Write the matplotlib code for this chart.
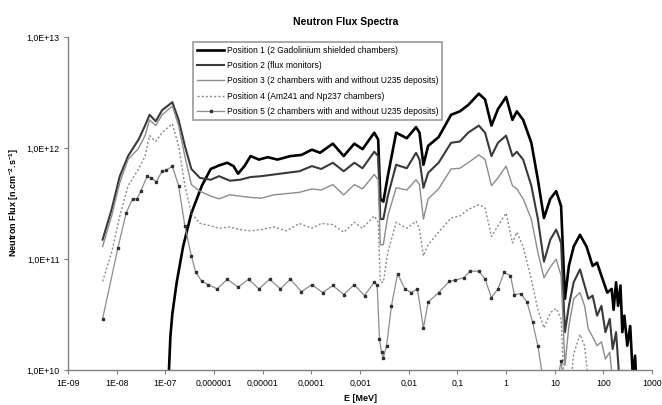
import matplotlib
matplotlib.use("Agg")
import matplotlib.pyplot as plt

plt.rcParams['font.family'] = ['Liberation Sans', 'DejaVu Sans']
plt.rcParams['mathtext.fontset'] = 'custom'
plt.rcParams['mathtext.rm'] = 'Liberation Sans'
plt.rcParams['mathtext.bf'] = 'Liberation Sans:bold'

# shared energy grid (MeV) for positions 2, 3, 4
e_grid = [5.1e-9, 7.8e-9, 1.15e-8, 1.7e-8, 2.8e-8, 3.8e-8, 4.7e-8, 6.3e-8, 8.5e-8, 1.38e-7,
          1.86e-7, 2.5e-7, 3.4e-7, 5.1e-7, 8.5e-7, 1.26e-6, 2.1e-6, 3.4e-6, 5.6e-6, 9.3e-6,
          1.7e-5, 3.1e-5, 5.6e-5, 1.02e-4, 1.58e-4, 2.75e-4, 4.6e-4, 7.6e-4, 1.12e-3, 1.95e-3,
          2.35e-3, 2.6e-3, 3.0e-3, 3.7e-3, 5.5e-3, 9.1e-3, 1.41e-2, 1.66e-2, 2.0e-2, 2.5e-2,
          4.1e-2, 7.4e-2, 0.112, 0.166, 0.275, 0.37, 0.5, 0.68, 1.0, 1.35,
          1.66, 2.24, 3.3, 4.5, 6.0, 8.1, 10.7, 13.5, 16.2, 19.5,
          24.5, 33, 41, 49, 60, 74, 91, 110, 135, 155,
          182, 214]

flux_pos2 = [1.5e11, 2.8e11, 5.6e11, 8.5e11, 1.2e12, 1.6e12, 2.0e12, 1.75e12, 2.2e12, 2.6e12,
             1.8e12, 1.05e12, 6.5e11, 5.4e11, 5.2e11, 5.6e11, 5.1e11, 5.2e11, 5.5e11, 5.6e11,
             5.8e11, 6.0e11, 6.2e11, 6.9e11, 6.5e11, 7.4e11, 6.2e11, 7.4e11, 6.6e11, 9.3e11,
             8.5e11, 2.3e11, 2.3e11, 3.7e11, 7.1e11, 6.6e11, 9.1e11, 7.9e11, 4.4e11, 6.0e11,
             7.4e11, 1.12e12, 1.15e12, 1.38e12, 1.6e12, 1.38e12, 8.5e11, 1.12e12, 1.3e12, 8.5e11,
             9.3e11, 7.9e11, 4.6e11, 2.3e11, 9.5e10, 1.5e11, 1.85e11, 1.4e11, 2.2e10, 3.8e10,
             6.2e10, 8.1e10, 5.8e10, 4.4e10, 4.7e10, 3.1e10, 3.8e10, 2.2e10, 2.9e10, 1.55e10,
             2.2e10, 8e9]

flux_pos3 = [1.3e11, 2.45e11, 4.9e11, 7.9e11, 1.0e12, 1.3e12, 1.8e12, 1.6e12, 2.0e12, 2.4e12,
             1.6e12, 8.5e11, 4.7e11, 4.1e11, 3.7e11, 3.5e11, 3.8e11, 3.7e11, 3.6e11, 3.55e11,
             3.8e11, 3.9e11, 4.0e11, 4.3e11, 4.2e11, 4.7e11, 3.8e11, 4.7e11, 4.3e11, 5.8e11,
             5.2e11, 1.35e11, 1.35e11, 2.45e11, 4.4e11, 4.2e11, 5.2e11, 4.7e11, 2.3e11, 3.5e11,
             4.3e11, 6.5e11, 6.6e11, 7.4e11, 8.7e11, 7.9e11, 4.6e11, 5.4e11, 6.9e11, 4.6e11,
             4.3e11, 3.5e11, 2.3e11, 1.15e11, 6.8e10, 8.5e10, 1.0e11, 7.1e10, 1.1e10, 2.5e10,
             4.4e10, 5.0e10, 3.8e10, 2.35e10, 2.0e10, 1.66e10, 1.8e10, 1.26e10, 1.45e10, 8e9,
             6e9, 5e9]

flux_pos4 = [6.3e10, 1.15e11, 2.45e11, 4.6e11, 6.5e11, 8.5e11, 1.3e12, 1.15e12, 1.38e12, 1.66e12,
             1.05e12, 4.6e11, 2.6e11, 2.1e11, 2.0e11, 1.9e11, 1.95e11, 1.85e11, 1.8e11, 1.85e11,
             1.95e11, 1.8e11, 2.1e11, 1.9e11, 2.1e11, 2.05e11, 1.75e11, 2.15e11, 1.9e11, 2.45e11,
             2.15e11, 6.2e10, 6.2e10, 1.15e11, 2.15e11, 1.9e11, 2.2e11, 1.85e11, 1.07e11, 1.35e11,
             1.75e11, 2.35e11, 2.45e11, 2.8e11, 3.1e11, 2.9e11, 1.6e11, 2.0e11, 2.6e11, 1.4e11,
             1.75e11, 1.3e11, 6.6e10, 3.5e10, 2.4e10, 3.3e10, 3.6e10, 2.9e10, 5e9, 5e9,
             1.4e10, 2.1e10, 1.66e10, 8e9, 5e9]

# position 1 (own grid)
e_pos1 = [1.12e-7, 1.26e-7, 1.38e-7, 1.7e-7, 2.3e-7, 3.4e-7, 5.6e-7, 8.5e-7, 1.26e-6, 1.86e-6,
          2.5e-6, 3.1e-6, 4.2e-6, 5.6e-6, 8.3e-6, 1.26e-5, 2.0e-5, 3.7e-5, 6.2e-5, 1.02e-4,
          1.5e-4, 2.75e-4, 4.6e-4, 7.6e-4, 1.12e-3, 1.95e-3, 2.35e-3, 2.6e-3, 3.0e-3, 3.7e-3,
          5.5e-3, 9.1e-3, 1.41e-2, 1.66e-2, 2.0e-2, 2.5e-2, 4.1e-2, 7.4e-2, 0.112, 0.166,
          0.275, 0.37, 0.5, 0.68, 1.0, 1.35, 1.66, 2.24, 3.3, 4.5,
          6.0, 8.1, 10.7, 13.5, 16.2, 19.5, 24.5, 33, 45, 60,
          74, 91, 120, 148, 162, 182, 200, 224, 245, 270,
          309, 355, 407, 447, 490]
flux_pos1 = [6e9, 2e10, 3.2e10, 6.2e10, 1.3e11, 2.6e11, 4.6e11, 6.5e11, 7.0e11, 7.4e11,
             6.9e11, 5.9e11, 6.9e11, 8.5e11, 7.9e11, 8.3e11, 7.9e11, 8.5e11, 8.7e11, 9.7e11,
             9.1e11, 1.1e12, 8.5e11, 1.1e12, 9.8e11, 1.38e12, 1.2e12, 3.5e11, 3.3e11, 5.6e11,
             1.38e12, 1.23e12, 1.55e12, 1.38e12, 7.1e11, 1.05e12, 1.26e12, 2.0e12, 2.15e12, 2.45e12,
             3.1e12, 2.75e12, 1.6e12, 2.25e12, 2.9e12, 1.8e12, 2.15e12, 1.8e12, 1.12e12, 5.2e11,
             2.35e11, 3.5e11, 4.1e11, 3.0e11, 4.4e10, 8.7e10, 1.3e11, 1.66e11, 1.3e11, 8.7e10,
             9.3e10, 7.1e10, 5.0e10, 5.4e10, 3.5e10, 6.2e10, 3.8e10, 5.8e10, 2.2e10, 3.1e10,
             1.66e10, 2.5e10, 8e9, 1.35e10, 6e9]

# position 5 (own grid, drawn with markers)
e_pos5 = [5.1e-9, 1.05e-8, 1.55e-8, 2.1e-8, 2.6e-8, 3.1e-8, 4.2e-8, 5.1e-8, 6.5e-8, 8.5e-8,
          1.02e-7, 1.38e-7, 1.86e-7, 2.5e-7, 3.4e-7, 4.2e-7, 5.6e-7, 7.6e-7, 1.15e-6, 1.86e-6,
          3.1e-6, 5.1e-6, 8.3e-6, 1.38e-5, 2.3e-5, 3.7e-5, 6.2e-5, 1.02e-4, 1.7e-4, 2.75e-4,
          4.6e-4, 7.6e-4, 1.23e-3, 1.95e-3, 2.24e-3, 2.5e-3, 2.75e-3, 3.0e-3, 3.5e-3, 4.4e-3,
          5.9e-3, 8.3e-3, 1.12e-2, 1.5e-2, 2.0e-2, 2.5e-2, 4.1e-2, 6.8e-2, 9.1e-2, 0.135,
          0.18, 0.275, 0.37, 0.5, 0.68, 0.91, 1.23, 1.48, 2.0, 2.7,
          3.5, 4.5, 5.8, 7.6, 10, 13.5, 16.2]
flux_pos5 = [2.9e10, 1.26e11, 2.6e11, 3.5e11, 3.5e11, 4.1e11, 5.6e11, 5.4e11, 5.0e11, 6.2e11,
             6.3e11, 6.9e11, 4.6e11, 2.0e11, 1.07e11, 7.6e10, 6.3e10, 5.9e10, 5.4e10, 6.6e10,
             5.6e10, 6.6e10, 5.4e10, 6.6e10, 5.4e10, 6.6e10, 5.1e10, 5.9e10, 5.0e10, 5.8e10,
             4.8e10, 5.9e10, 4.7e10, 6.2e10, 5.8e10, 1.9e10, 1.45e10, 1.3e10, 1.66e10, 3.8e10,
             7.4e10, 5.4e10, 5.0e10, 5.4e10, 2.4e10, 4.1e10, 5.0e10, 6.3e10, 6.5e10, 6.8e10,
             7.8e10, 7.8e10, 6.6e10, 4.5e10, 5.4e10, 7.6e10, 7.1e10, 4.8e10, 4.9e10, 4.1e10,
             2.7e10, 1.66e10, 8e9, 4e9, 6e9, 1.2e10, 6e9]

labels = ["Position 1 (2 Gadolinium shielded chambers)",
          "Position 2 (flux monitors)",
          "Position 3 (2 chambers with and without U235 deposits)",
          "Position 4 (Am241 and Np237 chambers)",
          "Position 5 (2 chambers with and without U235 deposits)"]

x_ticks = [1e-9, 1e-8, 1e-7, 1e-6, 1e-5, 1e-4, 1e-3, 1e-2, 1e-1, 1, 10, 100, 1000]
x_tick_labels = ["1E-09", "1E-08", "1E-07", "0,000001", "0,00001", "0,0001", "0,001",
                 "0,01", "0,1", "1", "10", "100", "1000"]
y_ticks = [1e10, 1e11, 1e12, 1e13]
y_tick_labels = ["1,0E+10", "1,0E+11", "1,0E+12", "1,0E+13"]

fig = plt.figure(figsize=(6.62, 4.05), dpi=100)
ax = fig.add_axes([0.103, 0.086, 0.882, 0.822])

ax.plot(e_pos1, flux_pos1, color='black', lw=1.9, label=labels[0])
ax.plot(e_grid, flux_pos2, color='#3a3a3a', lw=1.5, label=labels[1])
ax.plot(e_grid, flux_pos3, color='#8c8c8c', lw=1.0, label=labels[2])
ax.plot(e_grid[:len(flux_pos4)], flux_pos4, color='#8c8c8c', lw=1.0,
        linestyle=(0, (1.5, 1.5)), label=labels[3])
ax.plot(e_pos5, flux_pos5, color='#8c8c8c', lw=0.9, marker='s', markersize=1.8,
        markerfacecolor='#303030', markeredgecolor='#303030', label=labels[4])

ax.set_xscale('log')
ax.set_yscale('log')
ax.set_xlim(1e-9, 1e3)
ax.set_ylim(1e10, 1e13)
ax.set_xticks(x_ticks)
ax.set_xticklabels(x_tick_labels)
ax.set_yticks(y_ticks)
ax.set_yticklabels(y_tick_labels)
ax.minorticks_off()
ax.tick_params(labelsize=6.3, length=3, width=0.8, color='#808080', pad=3)

for s in ['top', 'right']:
    ax.spines[s].set_visible(False)
for s in ['left', 'bottom']:
    ax.spines[s].set_color('#808080')
    ax.spines[s].set_linewidth(1.0)

fig.text(0.522, 0.945, "Neutron Flux Spectra", ha='center', va='center',
         fontsize=7.5, fontweight='bold')
fig.text(0.545, 0.016, "E [MeV]", ha='center', va='center', fontsize=6.5, fontweight='bold')
fig.text(0.022, 0.5, r"Neutron Flux [n.cm$^{\mathbf{-2}}$.s$^{\mathbf{-1}}$]", ha='center',
         va='center', rotation=90, fontsize=6.5, fontweight='bold')

leg = ax.legend(loc='upper left', bbox_to_anchor=(0.214, 0.985), fontsize=6.15,
                frameon=True, fancybox=False, edgecolor='#808080', handlelength=3.2,
                labelspacing=0.72, borderpad=0.45, handletextpad=0.3, borderaxespad=0)
leg.get_frame().set_linewidth(1.2)

fig.savefig("out.png", dpi=100)
